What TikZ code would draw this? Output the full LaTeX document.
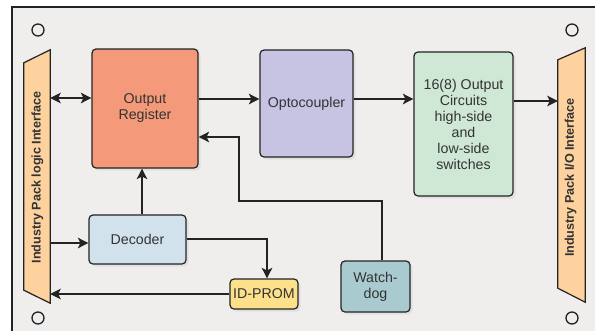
\documentclass[tikz,border=0pt]{standalone}
\usepackage{fontspec}
\setmainfont{Liberation Sans}
\usetikzlibrary{arrows.meta,shadows,calc}
\definecolor{framebg}{HTML}{EFEEED}
\definecolor{lineclr}{HTML}{232323}
\definecolor{txtclr}{HTML}{333333}
\definecolor{regclr}{HTML}{F4997A}
\definecolor{optoclr}{HTML}{C7C3E3}
\definecolor{outclr}{HTML}{CFE8D6}
\definecolor{decclr}{HTML}{D2E2EC}
\definecolor{promclr}{HTML}{FCE08A}
\definecolor{wdclr}{HTML}{A9CBD0}
\definecolor{ifclr}{HTML}{FDD29E}
\tikzset{
  blockbox/.style={draw=lineclr, line width=1.2pt, rounded corners=4pt,
    inner sep=0pt, align=center, text=txtclr,
    font=\fontsize{14.2}{16}\selectfont,
    drop shadow={shadow xshift=2.5pt, shadow yshift=-2.5pt, opacity=0.12}},
  ifarea/.style={inner sep=0pt, draw=none},
  iflabel/.style={rotate=90, text=txtclr, font=\fontsize{12.6}{14}\selectfont\bfseries, inner sep=0pt},
  ifshape/.style={draw=lineclr, line width=1.2pt, fill=ifclr, line join=miter},
  arr/.style={draw=lineclr, line width=1.7pt, -{Stealth[length=10.5pt,width=10.5pt,inset=2.5pt]}},
  dblarr/.style={draw=lineclr, line width=1.7pt, {Stealth[length=10.5pt,width=10.5pt,inset=2.5pt]}-{Stealth[length=10.5pt,width=10.5pt,inset=2.5pt]}},
  hole/.style={draw=lineclr, line width=1.3pt, circle, minimum size=12pt, inner sep=0pt}
}
\begin{document}
\begin{tikzpicture}[x=1pt,y=-1pt]
\useasboundingbox (0,0) rectangle (595,330);
\clip (0,0) rectangle (595,330);
\fill[white] (0,0) rectangle (595,330);
\fill[framebg] (12,7) rectangle (620,350);
\draw[lineclr, line width=1.5pt] (620,7) -- (12,7) -- (12,350);

% mounting holes
\node[hole] (h1) at (38,30) {};
\node[hole] (h2) at (572,30) {};
\node[hole] (h3) at (38,318) {};
\node[hole] (h4) at (572,318) {};

% interfaces
\node[ifarea, minimum width=26pt, minimum height=253pt] (lif) at (37,176.5) {};
\draw[ifshape] ($(lif.north west)+(0,13)$) -- (lif.north east) -- (lif.south east) -- ($(lif.south west)+(0,-13)$) -- cycle;
\node[iflabel] (liftxt) at (37.5,177.5) {Industry Pack logic Interface};

\node[ifarea, minimum width=27pt, minimum height=254pt] (rif) at (571.5,175) {};
\draw[ifshape] ($(rif.north west)+(0,12)$) -- (rif.north east) -- (rif.south east) -- ($(rif.south west)+(0,-14)$) -- cycle;
\node[iflabel] (riftxt) at (570.5,177.5) {Industry Pack I/O Interface};

% blocks
\node[blockbox, fill=regclr, minimum width=106pt, minimum height=119pt] (reg) at (145,108.5) {Output\\Register};
\node[blockbox, fill=optoclr, minimum width=93pt, minimum height=107pt] (opto) at (306.5,103.5) {Optocoupler};
\node[blockbox, fill=outclr, minimum width=99pt, minimum height=144pt] (out) at (463.5,124) {16(8) Output\\Circuits\\high-side\\and\\low-side\\switches};
\node[blockbox, fill=decclr, minimum width=97pt, minimum height=49pt] (dec) at (137.5,239.5) {Decoder};
\node[blockbox, fill=promclr, minimum width=68pt, minimum height=30pt] (prom) at (264,294) {ID-PROM};
\node[blockbox, fill=wdclr, minimum width=69pt, minimum height=51pt] (wd) at (375.5,286.5) {Watch-\\dog};

% connectors
\draw[dblarr] (lif.east |- 0,98) -- (reg.west |- 0,98);
\draw[arr] (reg.east |- 0,99) -- (opto.west |- 0,99);
\draw[arr] (opto.east |- 0,99) -- (out.west |- 0,99);
\draw[arr] (out.east |- 0,101) -- (rif.west |- 0,101);
\draw[arr] (dec.north -| 142,0) -- (reg.south -| 142,0);
\draw[arr] (wd.north -| 382,0) -- (382,201) -- (239,201) -- (239,137) -- (reg.east |- 0,137);
\draw[arr] (lif.east |- 0,243) -- (dec.west |- 0,243);
\draw[arr] (dec.east |- 0,239) -- (267,239) -- (prom.north -| 267,0);
\draw[arr] (prom.west |- 0,294) -- (lif.east |- 0,294);
\end{tikzpicture}
\end{document}
